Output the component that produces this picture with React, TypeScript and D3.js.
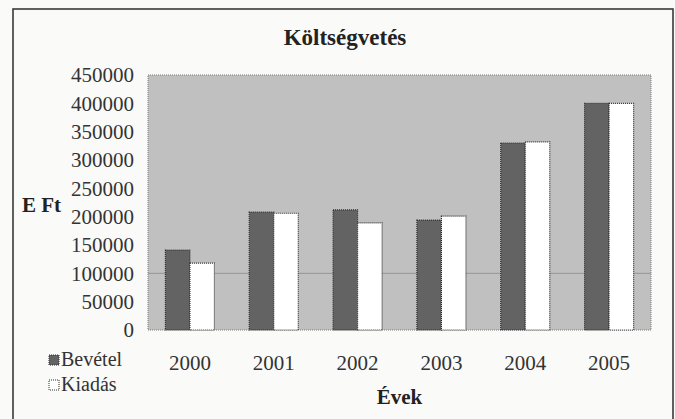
import React from 'react';
import * as d3 from 'd3';

// Költségvetés - budget by year (E Ft)
const years = ['2000', '2001', '2002', '2003', '2004', '2005'];
const bevetel = [141000, 208000, 212000, 194000, 330000, 400000];
const kiadas = [118000, 206000, 189000, 201000, 332000, 400000];
const yTicks = [0, 50000, 100000, 150000, 200000, 250000, 300000, 350000, 400000, 450000];
const gridValues = [100000];
const seriesNames = ['Bevétel', 'Kiadás'];

const W = 675;
const H = 419;
const plot = { left: 148, right: 651, top: 75, bottom: 330 };
const serif = 'Liberation Serif, Tinos, Times New Roman, DejaVu Serif, serif';

const App = () => {
  const x = d3.scaleBand<string>()
    .domain(years)
    .range([plot.left, plot.right])
    .paddingInner(0.415)
    .paddingOuter(0.2075);

  const sub = d3.scaleBand<string>()
    .domain(seriesNames)
    .range([0, x.bandwidth()]);

  const y = d3.scaleLinear()
    .domain([0, 450000])
    .range([plot.bottom, plot.top]);

  const series = [
    { name: seriesNames[0], values: bevetel, fill: '#636363' },
    { name: seriesNames[1], values: kiadas, fill: '#ffffff' },
  ];

  const txt = { fontFamily: serif };

  return (
    <svg width={W} height={H} style={{ position: 'absolute', left: 0, top: 0, background: '#fafaf8', fontFamily: serif }}>
      <defs>
        <filter id="grain" x="0" y="0" width="100%" height="100%">
          <feTurbulence type="fractalNoise" baseFrequency="0.9" numOctaves="1" seed="3" />
          <feColorMatrix type="matrix" values="0 0 0 0 0.5  0 0 0 0 0.5  0 0 0 0 0.5  0 0 0 0.12 0" />
          <feComposite in2="SourceGraphic" operator="in" />
        </filter>
      </defs>

      {/* outer frame */}
      <rect x={13} y={9} width={660} height={430} fill="none" stroke="#3a3a3a" strokeWidth={1.6} />

      {/* title */}
      <text x={345} y={45} textAnchor="middle" style={txt} fontWeight="bold" fontSize={23} fill="#222">
        Költségvetés
      </text>

      {/* plot area */}
      <rect x={plot.left} y={plot.top} width={plot.right - plot.left} height={plot.bottom - plot.top}
        fill="#c0c0c0" stroke="#7a7a7a" strokeDasharray="1,1" />

      {gridValues.map(v => (
        <line key={v} x1={plot.left} x2={plot.right} y1={y(v)} y2={y(v)} stroke="#959595" strokeWidth={1} />
      ))}

      {/* bars */}
      {series.map(s => (
        <g key={s.name}>
          {s.values.map((v, i) => (
            <rect key={years[i]}
              x={(x(years[i]) ?? 0) + (sub(s.name) ?? 0)}
              y={y(v)}
              width={sub.bandwidth()}
              height={y(0) - y(v)}
              fill={s.fill}
              stroke="#2e2e2e"
              strokeWidth={1.2}
              strokeDasharray="1,1" />
          ))}
        </g>
      ))}

      {/* y axis labels */}
      {yTicks.map(t => (
        <text key={t} x={134} y={y(t)} dy="0.35em" textAnchor="end" style={txt} fontSize={21} fill="#333">
          {t}
        </text>
      ))}

      {/* x axis labels */}
      {years.map(yr => (
        <text key={yr} x={(x(yr) ?? 0) + x.bandwidth() / 2} y={370} textAnchor="middle" style={txt} fontSize={21} fill="#333">
          {yr}
        </text>
      ))}

      {/* axis titles */}
      <text x={22} y={212} style={txt} fontWeight="bold" fontSize={21} fill="#222">E Ft</text>
      <text x={(plot.left + plot.right) / 2} y={404} textAnchor="middle" style={txt} fontWeight="bold" fontSize={21} fill="#222">Évek</text>

      {/* legend */}
      {series.map((s, i) => (
        <g key={s.name} transform={`translate(49, ${355 + i * 25})`}>
          <rect x={0} y={0} width={10} height={10} fill={s.fill} stroke="#2e2e2e" strokeDasharray="1,1" />
          <text x={12} y={11} style={txt} fontSize={20} fill="#333">{s.name}</text>
        </g>
      ))}
    </svg>
  );
};

export default App;
